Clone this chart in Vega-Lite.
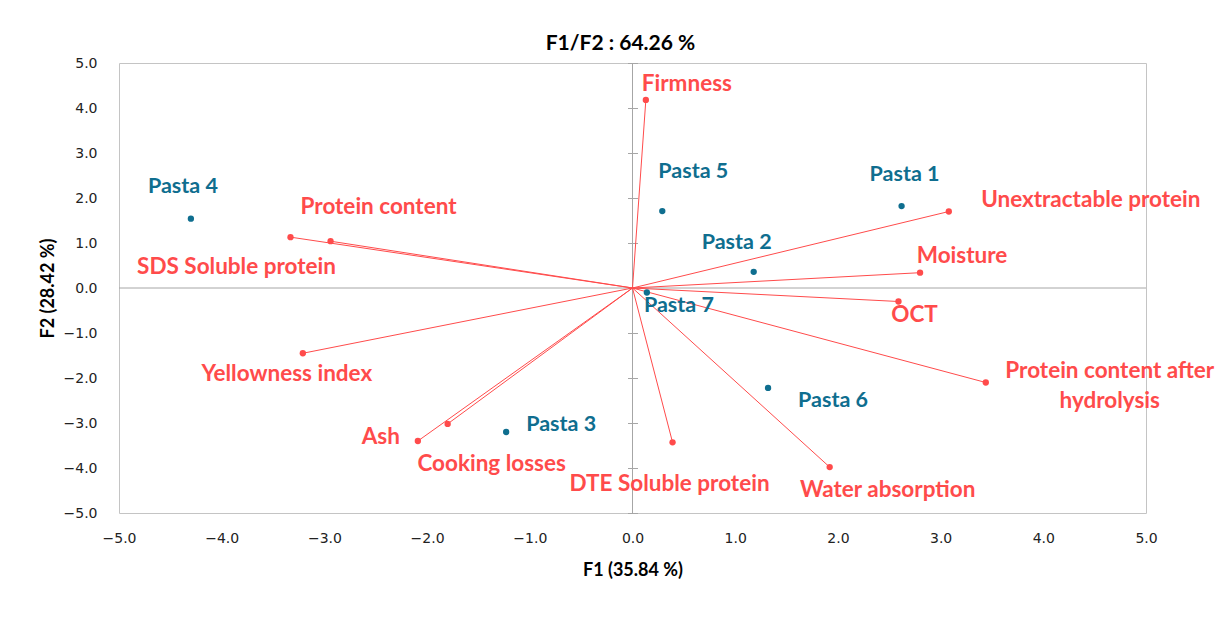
{
  "$schema": "https://vega.github.io/schema/vega-lite/v6.json",
  "width": 1027,
  "height": 450,
  "autosize": {"type": "none"},
  "padding": {"left": 119, "top": 63, "right": 81, "bottom": 106},
  "config": {
    "font": "Lato",
    "view": {"stroke": "#C4C4C4", "strokeWidth": 1},
    "text": {"font": "Lato", "fontSize": 22.5, "fontWeight": "bold", "align": "center", "baseline": "middle", "lineBreak": "\n", "lineHeight": 30}
  },
  "title": {"text": "F1/F2 : 64.26 %", "font": "Lato", "fontSize": 21, "fontWeight": "bold", "color": "#000000", "offset": 2, "dx": -12},
  "datasets": {
    "vars": [
      {"name": "Firmness", "F1": 0.13, "F2": 4.18},
      {"name": "Unextractable protein", "F1": 3.08, "F2": 1.70},
      {"name": "Moisture", "F1": 2.80, "F2": 0.34},
      {"name": "OCT", "F1": 2.59, "F2": -0.30},
      {"name": "Protein content after\nhydrolysis", "F1": 3.44, "F2": -2.10},
      {"name": "Water absorption", "F1": 1.92, "F2": -3.98},
      {"name": "DTE Soluble protein", "F1": 0.39, "F2": -3.43},
      {"name": "Cooking losses", "F1": -1.80, "F2": -3.02},
      {"name": "Ash", "F1": -2.09, "F2": -3.40},
      {"name": "Yellowness index", "F1": -3.21, "F2": -1.45},
      {"name": "SDS Soluble protein", "F1": -3.33, "F2": 1.13},
      {"name": "Protein content", "F1": -2.94, "F2": 1.04}
    ],
    "obs": [
      {"name": "Pasta 1", "F1": 2.62, "F2": 1.82},
      {"name": "Pasta 2", "F1": 1.18, "F2": 0.36},
      {"name": "Pasta 3", "F1": -1.23, "F2": -3.20},
      {"name": "Pasta 4", "F1": -4.30, "F2": 1.54},
      {"name": "Pasta 5", "F1": 0.29, "F2": 1.71},
      {"name": "Pasta 6", "F1": 1.32, "F2": -2.22},
      {"name": "Pasta 7", "F1": 0.14, "F2": -0.10}
    ],
    "one": [{}]
  },
  "layer": [
    {
      "data": {"name": "one"},
      "mark": {"type": "rule", "color": "#A6A6A6", "strokeWidth": 1},
      "encoding": {"x": {"datum": 0, "type": "quantitative", "scale": {"domain": [-5, 5], "nice": false, "zero": false}}}
    },
    {
      "data": {"name": "one"},
      "mark": {"type": "rule", "color": "#A6A6A6", "strokeWidth": 1},
      "encoding": {"y": {"datum": 0, "type": "quantitative", "scale": {"domain": [-5, 5], "nice": false, "zero": false}}}
    },
    {
      "data": {"name": "vars"},
      "mark": {"type": "rule", "color": "#FF4B4B", "strokeWidth": 1},
      "encoding": {
        "x": {"field": "F1", "type": "quantitative", "scale": {"domain": [-5, 5], "nice": false, "zero": false},
          "axis": {"title": "F1 (35.84 %)", "orient": "bottom", "domain": false, "ticks": false, "tickSize": 0, "grid": false,
            "labelPadding": 18, "labelFont": "DejaVu Sans", "labelFontSize": 14, "labelColor": "#222222", "format": ".1f",
            "values": [-5, -4, -3, -2, -1, 0, 1, 2, 3, 4, 5], "labelFlush": false, "labelOverlap": false,
            "titleFont": "Lato", "titleFontSize": 18, "titleFontWeight": "bold", "titleColor": "#000000", "titlePadding": 16}},
        "y": {"field": "F2", "type": "quantitative", "scale": {"domain": [-5, 5], "nice": false, "zero": false},
          "axis": {"title": "F2 (28.42 %)", "orient": "left", "offset": -518.5, "domain": false, "ticks": true, "tickSize": 10, "tickColor": "#A6A6A6", "grid": false,
            "labelPadding": 530.5, "labelFont": "DejaVu Sans", "labelFontSize": 14, "labelColor": "#222222", "format": ".1f",
            "values": [-5, -4, -3, -2, -1, 0, 1, 2, 3, 4, 5], "labelFlush": false, "labelOverlap": false,
            "titleFont": "Lato", "titleFontSize": 18, "titleFontWeight": "bold", "titleColor": "#000000",
            "titleX": -580, "titleY": 225, "titleAngle": -90, "titleAlign": "center", "titleBaseline": "bottom"}},
        "x2": {"datum": 0},
        "y2": {"datum": 0}
      }
    },
    {
      "data": {"name": "vars"},
      "mark": {"type": "point", "filled": true, "opacity": 1, "color": "#FF4B4B", "size": 40},
      "encoding": {"x": {"field": "F1", "type": "quantitative"}, "y": {"field": "F2", "type": "quantitative"}}
    },
    {
      "data": {"name": "obs"},
      "mark": {"type": "point", "filled": true, "opacity": 1, "color": "#0F6E8F", "size": 40},
      "encoding": {"x": {"field": "F1", "type": "quantitative"}, "y": {"field": "F2", "type": "quantitative"}}
    },
    {"data": {"name": "vars"}, "transform": [{"filter": "datum.name === 'Firmness'"}], "mark": {"type": "text", "color": "#FF4B4B", "dx": 41, "dy": -16}, "encoding": {"x": {"field": "F1", "type": "quantitative"}, "y": {"field": "F2", "type": "quantitative"}, "text": {"field": "name"}}},
    {"data": {"name": "vars"}, "transform": [{"filter": "datum.name === 'Unextractable protein'"}], "mark": {"type": "text", "color": "#FF4B4B", "dx": 142, "dy": -12}, "encoding": {"x": {"field": "F1", "type": "quantitative"}, "y": {"field": "F2", "type": "quantitative"}, "text": {"field": "name"}}},
    {"data": {"name": "vars"}, "transform": [{"filter": "datum.name === 'Moisture'"}], "mark": {"type": "text", "color": "#FF4B4B", "dx": 42, "dy": -17}, "encoding": {"x": {"field": "F1", "type": "quantitative"}, "y": {"field": "F2", "type": "quantitative"}, "text": {"field": "name"}}},
    {"data": {"name": "vars"}, "transform": [{"filter": "datum.name === 'OCT'"}], "mark": {"type": "text", "color": "#FF4B4B", "dx": 16, "dy": 13}, "encoding": {"x": {"field": "F1", "type": "quantitative"}, "y": {"field": "F2", "type": "quantitative"}, "text": {"field": "name"}}},
    {"data": {"name": "vars"}, "transform": [{"filter": "indexof(datum.name, 'hydrolysis') >= 0"}], "mark": {"type": "text", "color": "#FF4B4B", "dx": 124, "dy": -12}, "encoding": {"x": {"field": "F1", "type": "quantitative"}, "y": {"field": "F2", "type": "quantitative"}, "text": {"field": "name"}}},
    {"data": {"name": "vars"}, "transform": [{"filter": "datum.name === 'Water absorption'"}], "mark": {"type": "text", "color": "#FF4B4B", "dx": 58, "dy": 23}, "encoding": {"x": {"field": "F1", "type": "quantitative"}, "y": {"field": "F2", "type": "quantitative"}, "text": {"field": "name"}}},
    {"data": {"name": "vars"}, "transform": [{"filter": "datum.name === 'DTE Soluble protein'"}], "mark": {"type": "text", "color": "#FF4B4B", "dx": -3, "dy": 42}, "encoding": {"x": {"field": "F1", "type": "quantitative"}, "y": {"field": "F2", "type": "quantitative"}, "text": {"field": "name"}}},
    {"data": {"name": "vars"}, "transform": [{"filter": "datum.name === 'Cooking losses'"}], "mark": {"type": "text", "color": "#FF4B4B", "dx": 44, "dy": 40}, "encoding": {"x": {"field": "F1", "type": "quantitative"}, "y": {"field": "F2", "type": "quantitative"}, "text": {"field": "name"}}},
    {"data": {"name": "vars"}, "transform": [{"filter": "datum.name === 'Ash'"}], "mark": {"type": "text", "color": "#FF4B4B", "dx": -37, "dy": -4}, "encoding": {"x": {"field": "F1", "type": "quantitative"}, "y": {"field": "F2", "type": "quantitative"}, "text": {"field": "name"}}},
    {"data": {"name": "vars"}, "transform": [{"filter": "datum.name === 'Yellowness index'"}], "mark": {"type": "text", "color": "#FF4B4B", "dx": -16, "dy": 21}, "encoding": {"x": {"field": "F1", "type": "quantitative"}, "y": {"field": "F2", "type": "quantitative"}, "text": {"field": "name"}}},
    {"data": {"name": "vars"}, "transform": [{"filter": "datum.name === 'SDS Soluble protein'"}], "mark": {"type": "text", "color": "#FF4B4B", "dx": -54, "dy": 30}, "encoding": {"x": {"field": "F1", "type": "quantitative"}, "y": {"field": "F2", "type": "quantitative"}, "text": {"field": "name"}}},
    {"data": {"name": "vars"}, "transform": [{"filter": "datum.name === 'Protein content'"}], "mark": {"type": "text", "color": "#FF4B4B", "dx": 48, "dy": -34}, "encoding": {"x": {"field": "F1", "type": "quantitative"}, "y": {"field": "F2", "type": "quantitative"}, "text": {"field": "name"}}},
    {"data": {"name": "obs"}, "transform": [{"filter": "datum.name === 'Pasta 1'"}], "mark": {"type": "text", "color": "#0F6E8F", "fontSize": 21.5, "dx": 3, "dy": -31}, "encoding": {"x": {"field": "F1", "type": "quantitative"}, "y": {"field": "F2", "type": "quantitative"}, "text": {"field": "name"}}},
    {"data": {"name": "obs"}, "transform": [{"filter": "datum.name === 'Pasta 2'"}], "mark": {"type": "text", "color": "#0F6E8F", "fontSize": 21.5, "dx": -17, "dy": -29}, "encoding": {"x": {"field": "F1", "type": "quantitative"}, "y": {"field": "F2", "type": "quantitative"}, "text": {"field": "name"}}},
    {"data": {"name": "obs"}, "transform": [{"filter": "datum.name === 'Pasta 3'"}], "mark": {"type": "text", "color": "#0F6E8F", "fontSize": 21.5, "dx": 55, "dy": -7}, "encoding": {"x": {"field": "F1", "type": "quantitative"}, "y": {"field": "F2", "type": "quantitative"}, "text": {"field": "name"}}},
    {"data": {"name": "obs"}, "transform": [{"filter": "datum.name === 'Pasta 4'"}], "mark": {"type": "text", "color": "#0F6E8F", "fontSize": 21.5, "dx": -8, "dy": -32}, "encoding": {"x": {"field": "F1", "type": "quantitative"}, "y": {"field": "F2", "type": "quantitative"}, "text": {"field": "name"}}},
    {"data": {"name": "obs"}, "transform": [{"filter": "datum.name === 'Pasta 5'"}], "mark": {"type": "text", "color": "#0F6E8F", "fontSize": 21.5, "dx": 31, "dy": -39}, "encoding": {"x": {"field": "F1", "type": "quantitative"}, "y": {"field": "F2", "type": "quantitative"}, "text": {"field": "name"}}},
    {"data": {"name": "obs"}, "transform": [{"filter": "datum.name === 'Pasta 6'"}], "mark": {"type": "text", "color": "#0F6E8F", "fontSize": 21.5, "dx": 65, "dy": 13}, "encoding": {"x": {"field": "F1", "type": "quantitative"}, "y": {"field": "F2", "type": "quantitative"}, "text": {"field": "name"}}},
    {"data": {"name": "obs"}, "transform": [{"filter": "datum.name === 'Pasta 7'"}], "mark": {"type": "text", "color": "#0F6E8F", "fontSize": 21.5, "dx": 32, "dy": 13}, "encoding": {"x": {"field": "F1", "type": "quantitative"}, "y": {"field": "F2", "type": "quantitative"}, "text": {"field": "name"}}}
  ]
}
